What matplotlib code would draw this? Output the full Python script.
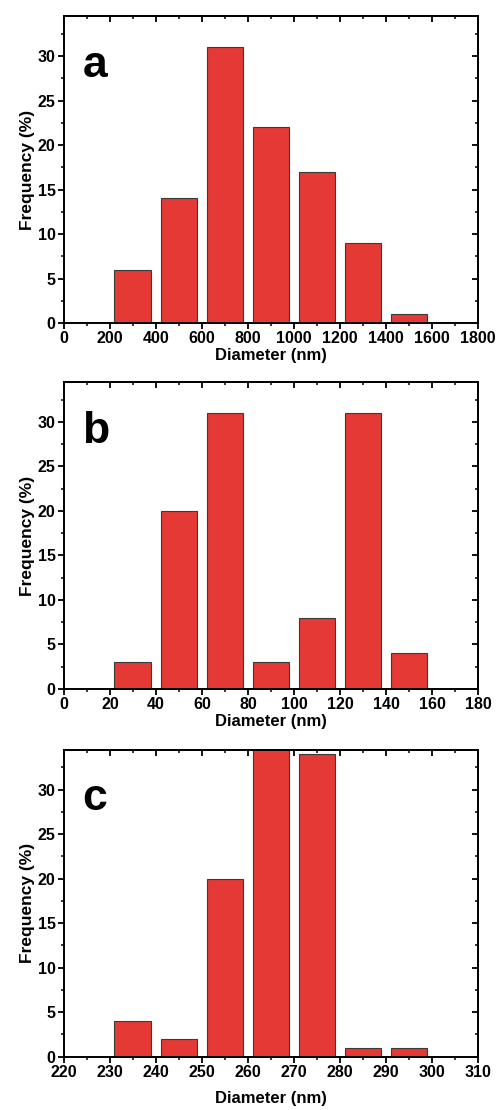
"""Size distribution histograms for three particle batches (a, b, c)."""
import matplotlib
matplotlib.use("Agg")
import matplotlib.pyplot as plt
from matplotlib.ticker import MultipleLocator

plt.rcParams["font.family"] = ["Liberation Sans", "DejaVu Sans"]
plt.rcParams["font.weight"] = "bold"

# panel a: diameters in nm
a_centers = [300, 500, 700, 900, 1100, 1300, 1500]
a_freq = [6, 14, 31, 22, 17, 9, 1]
# panel b
b_centers = [30, 50, 70, 90, 110, 130, 150]
b_freq = [3, 20, 31, 3, 8, 31, 4]
# panel c
c_centers = [235, 245, 255, 265, 275, 285, 295]
c_freq = [4, 2, 20, 36, 34, 1, 1]

panels = [
    ("a", a_centers, a_freq, 160, (0, 1800), 200, 0.709, 1),
    ("b", b_centers, b_freq, 16, (0, 180), 20, 0.3793, 1),
    ("c", c_centers, c_freq, 8, (220, 310), 10, 0.048, 8),
]

BAR = "#e43934"
EDGE = "#3a3a3a"

fig = plt.figure(figsize=(4.99, 11.10), dpi=100)
for letter, x, y, w, xlim, xstep, bottom, xpad in panels:
    ax = fig.add_axes([0.128, bottom, 0.830, 0.2766])
    ax.bar(x, y, width=w, color=BAR, edgecolor=EDGE, linewidth=0.8)
    ax.set_xlim(*xlim)
    ax.set_ylim(0, 34.5)
    ax.xaxis.set_major_locator(MultipleLocator(xstep))
    ax.xaxis.set_minor_locator(MultipleLocator(xstep / 2))
    ax.yaxis.set_major_locator(MultipleLocator(5))
    ax.yaxis.set_minor_locator(MultipleLocator(2.5))
    ax.tick_params(which="major", direction="out", length=4, width=1.3, labelsize=11.5, pad=2)
    ax.tick_params(which="minor", direction="out", length=2.5, width=1.1)
    for s in ax.spines.values():
        s.set_linewidth(1.4)
    for side in ("top", "right"):
        sec = ax.secondary_xaxis("top") if side == "top" else ax.secondary_yaxis("right")
        axis = sec.xaxis if side == "top" else sec.yaxis
        axis.set_major_locator(MultipleLocator(xstep if side == "top" else 5))
        axis.set_minor_locator(MultipleLocator(xstep / 2 if side == "top" else 2.5))
        sec.tick_params(which="major", direction="in", length=4, width=1.3, labelsize=0)
        sec.tick_params(which="minor", direction="in", length=2.5, width=1.1)
        axis.set_ticklabels([])
        sec.spines[side].set_linewidth(1.4)
    for lab in ax.get_xticklabels() + ax.get_yticklabels():
        lab.set_fontweight("bold")
    ax.set_xlabel("Diameter (nm)", fontsize=12, fontweight="bold", labelpad=xpad)
    ax.set_ylabel("Frequency (%)", fontsize=12.5, fontweight="bold", labelpad=2)
    ax.text(0.045, 0.84, letter, transform=ax.transAxes, fontsize=32,
            fontweight="bold", va="center", ha="left")

fig.savefig("out.png", dpi=100)
plt.close(fig)
